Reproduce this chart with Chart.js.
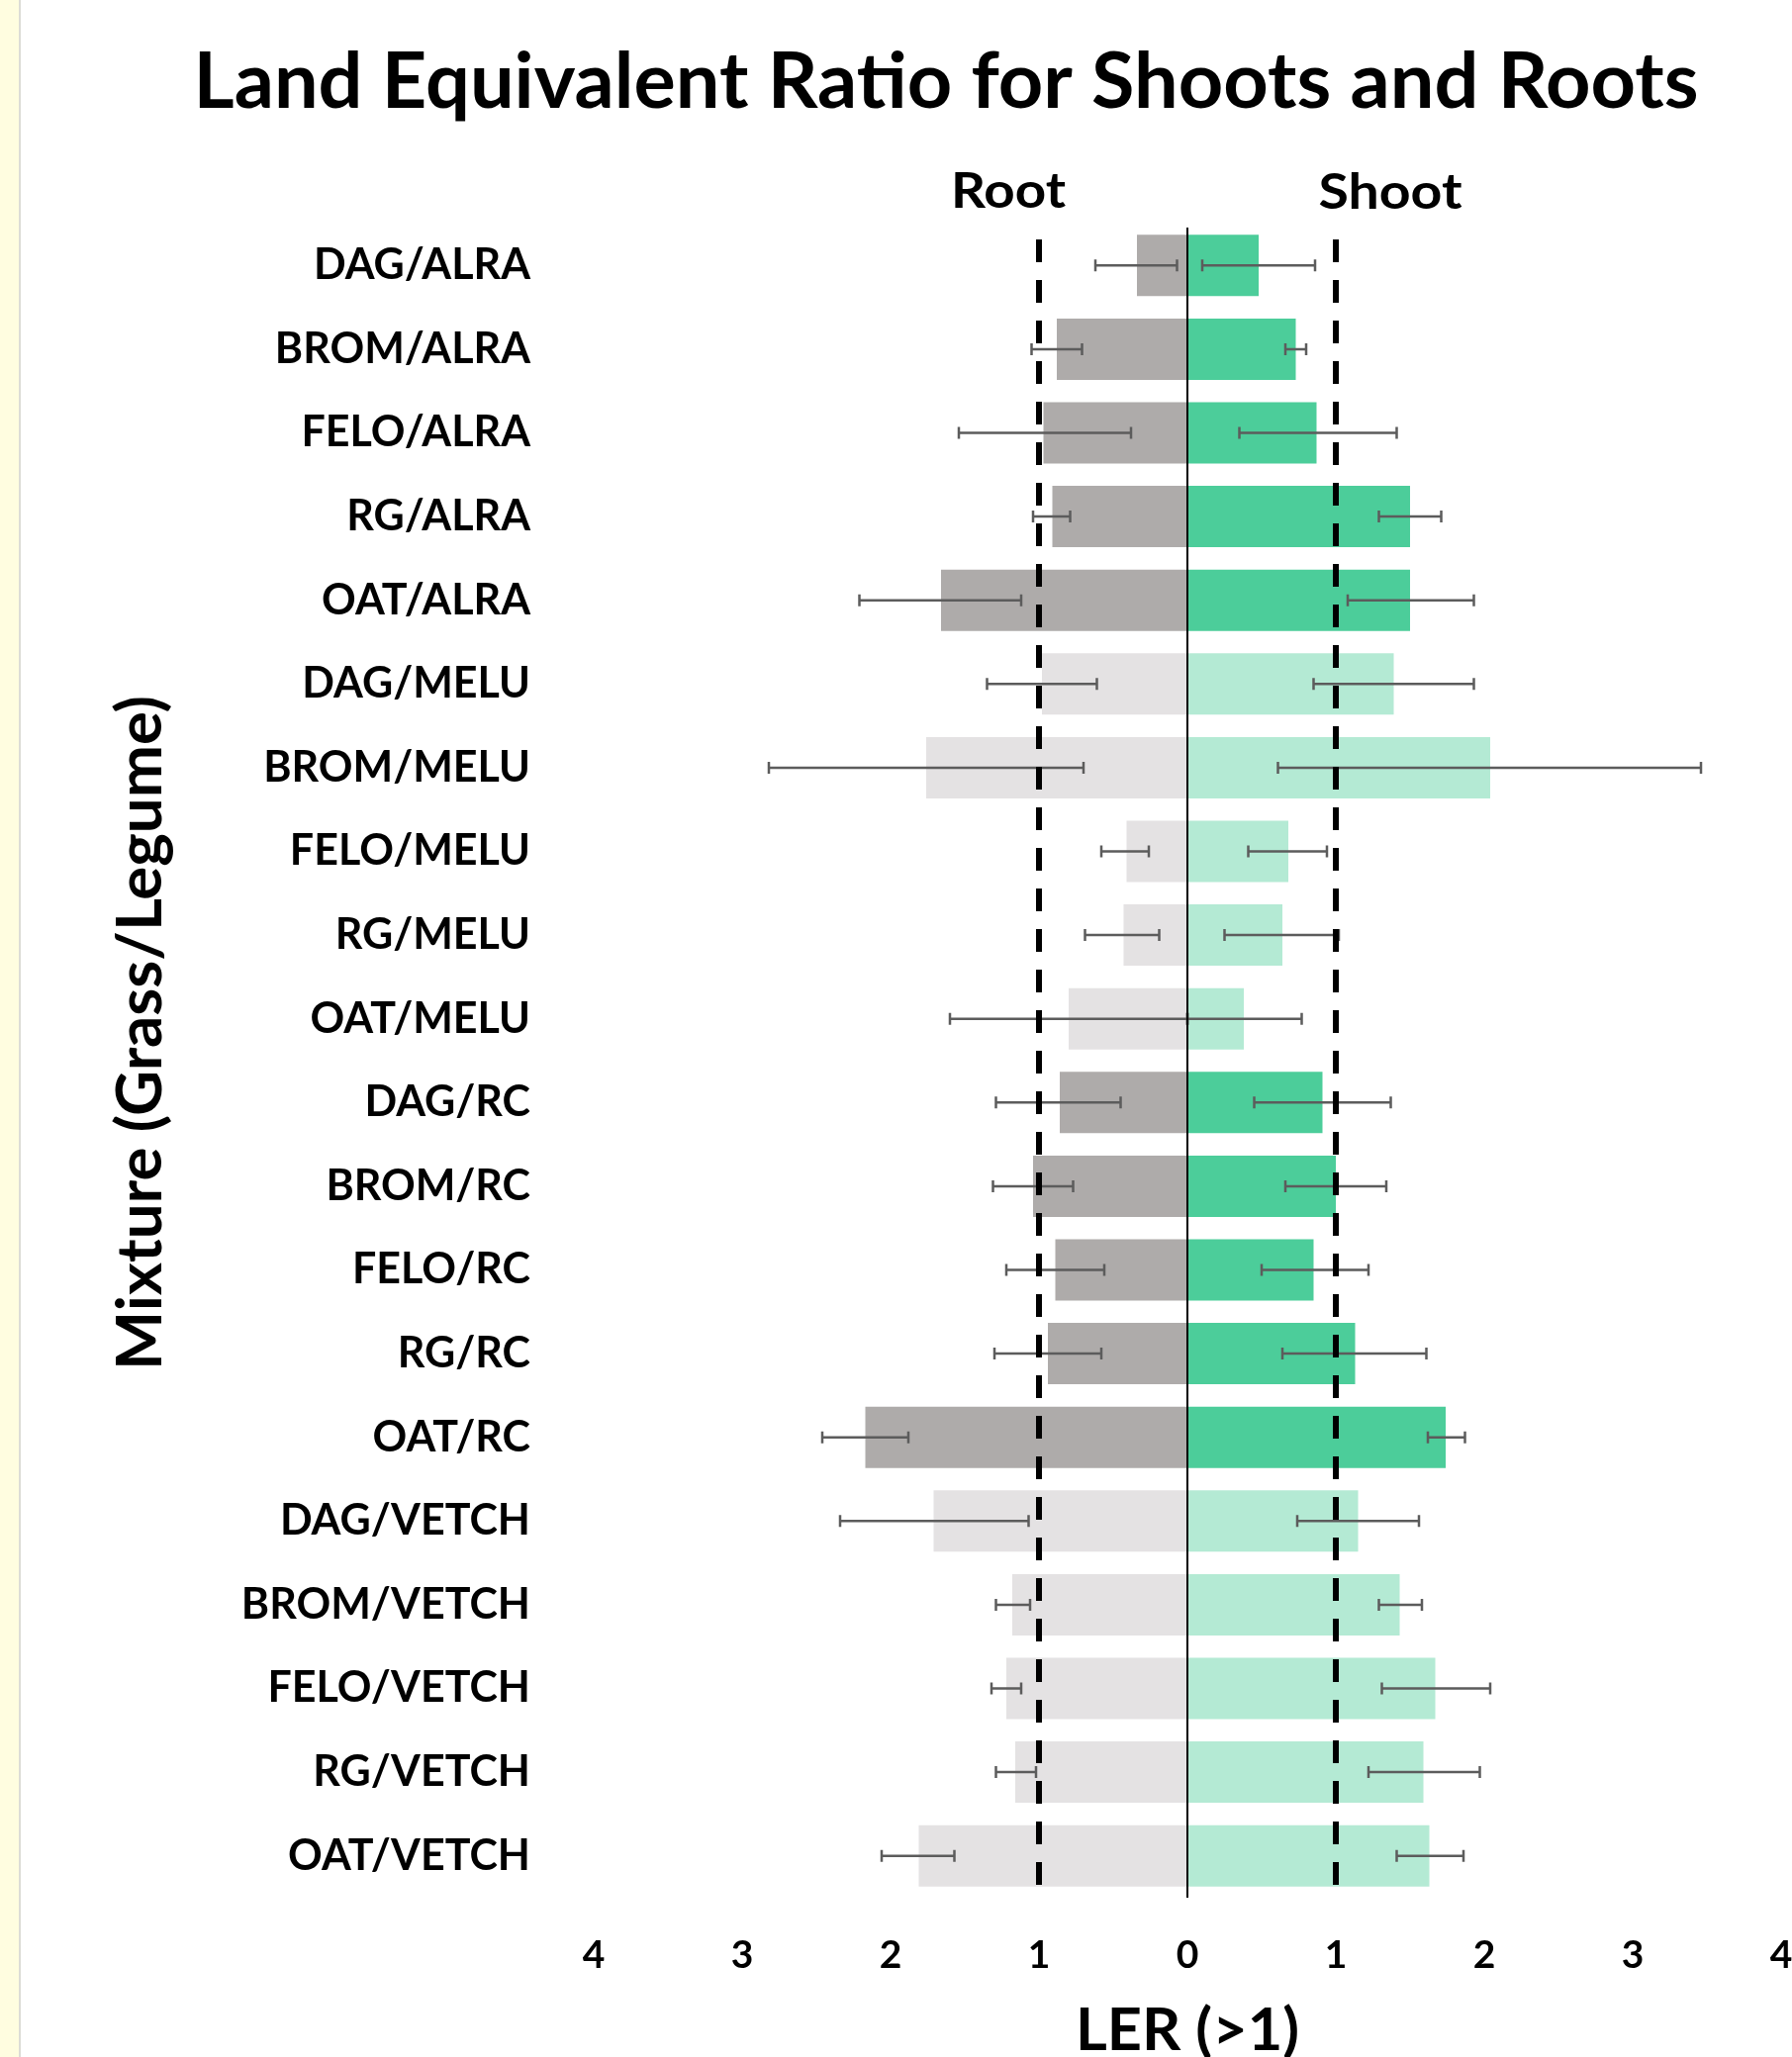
<!DOCTYPE html>
<html>
<head>
<meta charset="utf-8">
<title>Land Equivalent Ratio</title>
<script src="https://cdn.jsdelivr.net/npm/chart.js@4.4.0/dist/chart.umd.min.js"></script>
<style>
  html, body { margin: 0; padding: 0; background: #fff; overflow: hidden; }
  #wrap { position: relative; width: 1811px; height: 2079px; }
  #strip { position: absolute; left: 0; top: 0; width: 19px; height: 2079px; background: #fffde0; border-right: 2px solid #dcdcd6; }
  canvas { position: absolute; left: 0; top: 0; }
</style>
</head>
<body>
<div id="wrap">
  <canvas id="lerChart" width="1811" height="2079"></canvas>
  <div id="strip"></div>
</div>
<script>
// mixtures, top to bottom
const mixtures = [
  'DAG/ALRA', 'BROM/ALRA', 'FELO/ALRA', 'RG/ALRA', 'OAT/ALRA',
  'DAG/MELU', 'BROM/MELU', 'FELO/MELU', 'RG/MELU', 'OAT/MELU',
  'DAG/RC', 'BROM/RC', 'FELO/RC', 'RG/RC', 'OAT/RC',
  'DAG/VETCH', 'BROM/VETCH', 'FELO/VETCH', 'RG/VETCH', 'OAT/VETCH'
];

// LER values (root drawn to the left)
const rootLER  = [0.34, 0.88, 0.97, 0.91, 1.66, 0.98, 1.76, 0.41, 0.43, 0.80,
                  0.86, 1.04, 0.89, 0.94, 2.17, 1.71, 1.18, 1.22, 1.16, 1.81];
const shootLER = [0.48, 0.73, 0.87, 1.50, 1.50, 1.39, 2.04, 0.68, 0.64, 0.38,
                  0.91, 1.00, 0.85, 1.13, 1.74, 1.15, 1.43, 1.67, 1.59, 1.63];

// error bar extents [from, to]
const rootErr = [
  [0.07, 0.62], [0.71, 1.05], [0.38, 1.54], [0.79, 1.04], [1.12, 2.21],
  [0.61, 1.35], [0.70, 2.82], [0.26, 0.58], [0.19, 0.69], [0.00, 1.60],
  [0.45, 1.29], [0.77, 1.31], [0.56, 1.22], [0.58, 1.30], [1.88, 2.46],
  [1.07, 2.34], [1.06, 1.29], [1.12, 1.32], [1.02, 1.29], [1.57, 2.06]
];
const shootErr = [
  [0.10, 0.86], [0.66, 0.80], [0.35, 1.41], [1.29, 1.71], [1.08, 1.93],
  [0.85, 1.93], [0.61, 3.46], [0.41, 0.94], [0.25, 1.02], [0.00, 0.77],
  [0.45, 1.37], [0.66, 1.34], [0.50, 1.22], [0.64, 1.61], [1.62, 1.87],
  [0.74, 1.56], [1.29, 1.58], [1.31, 2.04], [1.22, 1.97], [1.41, 1.86]
];

const xTicks = [-4, -3, -2, -1, 0, 1, 2, 3, 4];
const referenceLines = [-1, 1];

const darkLegumes = ['ALRA', 'RC'];
const isDark = mixtures.map(m => darkLegumes.includes(m.split('/')[1]));
const rootColors = isDark.map(d => d ? '#aeabaa' : '#e4e2e3');
const shootColors = isDark.map(d => d ? '#4ccd9a' : '#b4ead4');

const FONT = 'Lato, "Open Sans", sans-serif';

// draw text fitted to a given width (source font is Calibri-like)
function drawFitted(ctx, text, cx, baseline, size, width, rotated) {
  ctx.save();
  ctx.font = 'bold ' + size + 'px ' + FONT;
  const w = ctx.measureText(text).width;
  const sx = width / w;
  ctx.translate(cx, baseline);
  if (rotated) ctx.rotate(-Math.PI / 2);
  ctx.scale(sx, 1);
  ctx.textAlign = 'center';
  ctx.textBaseline = 'alphabetic';
  ctx.fillStyle = '#000';
  ctx.fillText(text, 0, 0);
  ctx.restore();
}

const overlayPlugin = {
  id: 'overlay',
  afterDatasetsDraw(chart) {
    const { ctx, chartArea, scales } = chart;
    const x = scales.x;
    const rootMeta = chart.getDatasetMeta(0);

    // error bars
    ctx.save();
    ctx.strokeStyle = '#5c5c5c';
    ctx.lineWidth = 2.5;
    const cap = 6;
    const whisker = (a, b, y) => {
      const p1 = x.getPixelForValue(a), p2 = x.getPixelForValue(b);
      ctx.beginPath();
      ctx.moveTo(p1, y); ctx.lineTo(p2, y);
      ctx.moveTo(p1, y - cap); ctx.lineTo(p1, y + cap);
      ctx.moveTo(p2, y - cap); ctx.lineTo(p2, y + cap);
      ctx.stroke();
    };
    rootMeta.data.forEach((bar, i) => {
      whisker(-rootErr[i][0], -rootErr[i][1], bar.y);
      whisker(shootErr[i][0], shootErr[i][1], bar.y);
    });
    ctx.restore();

    // dashed reference lines at LER = 1
    ctx.save();
    ctx.strokeStyle = '#000';
    ctx.lineWidth = 6;
    ctx.setLineDash([23, 18]);
    referenceLines.forEach(v => {
      const px = x.getPixelForValue(v);
      ctx.beginPath();
      ctx.moveTo(px, chartArea.top + 16);
      ctx.lineTo(px, chartArea.bottom - 12);
      ctx.stroke();
    });
    ctx.restore();

    // zero line
    ctx.save();
    ctx.strokeStyle = '#000';
    ctx.lineWidth = 2;
    const z = x.getPixelForValue(0);
    ctx.beginPath();
    ctx.moveTo(z, chartArea.top + 4);
    ctx.lineTo(z, chartArea.bottom);
    ctx.stroke();
    ctx.restore();
  },
  afterDraw(chart) {
    const ctx = chart.ctx;
    const x = chart.scales.x;
    drawFitted(ctx, 'Land Equivalent Ratio for Shoots and Roots', 956, 109, 78, 1521);
    drawFitted(ctx, 'Root', 1019, 210, 49, 116);
    drawFitted(ctx, 'Shoot', 1405, 211, 49, 145);
    drawFitted(ctx, 'LER (>1)', x.getPixelForValue(0), 2072, 59, 226);
    drawFitted(ctx, 'Mixture (Grass/Legume)', 163, 1044, 63, 682, true);
  }
};

function draw() {
  const ctx = document.getElementById('lerChart').getContext('2d');
  new Chart(ctx, {
    type: 'bar',
    data: {
      labels: mixtures,
      datasets: [
        {
          label: 'Root',
          data: rootLER.map(v => -v),
          backgroundColor: rootColors,
          borderWidth: 0,
          barPercentage: 0.733,
          categoryPercentage: 1
        },
        {
          label: 'Shoot',
          data: shootLER,
          backgroundColor: shootColors,
          borderWidth: 0,
          barPercentage: 0.733,
          categoryPercentage: 1
        }
      ]
    },
    options: {
      indexAxis: 'y',
      responsive: false,
      animation: false,
      devicePixelRatio: 1,
      layout: { padding: { top: 226, right: 11, bottom: 0, left: 0 } },
      plugins: {
        legend: { display: false },
        tooltip: { enabled: false },
        title: { display: false }
      },
      scales: {
        x: {
          stacked: true,
          min: -4,
          max: 4,
          afterBuildTicks: function(scale) {
            scale.ticks = xTicks.map(v => ({ value: v }));
          },
          afterFit: function(scale) {
            scale.height = 161;
            scale.paddingLeft = 0;
            scale.paddingRight = 0;
          },
          ticks: {
            autoSkip: false,
            maxRotation: 0,
            padding: 35,
            color: '#000',
            font: { family: FONT, size: 39, weight: 'bold' },
            callback: function(value) { return Math.abs(value); }
          },
          grid: { display: false, drawTicks: false },
          border: { display: false }
        },
        y: {
          stacked: true,
          afterFit: function(scale) {
            scale.width = 600;
            scale.paddingTop = 0;
            scale.paddingBottom = 0;
          },
          ticks: {
            padding: 64,
            color: '#000',
            font: { family: FONT, size: 43, weight: 'bold' }
          },
          grid: { display: false, drawTicks: false },
          border: { display: false }
        }
      }
    },
    plugins: [overlayPlugin]
  });
}

if (document.fonts && document.fonts.load) {
  document.fonts.load('bold 40px Lato').then(draw, draw);
} else {
  draw();
}
</script>
</body>
</html>
